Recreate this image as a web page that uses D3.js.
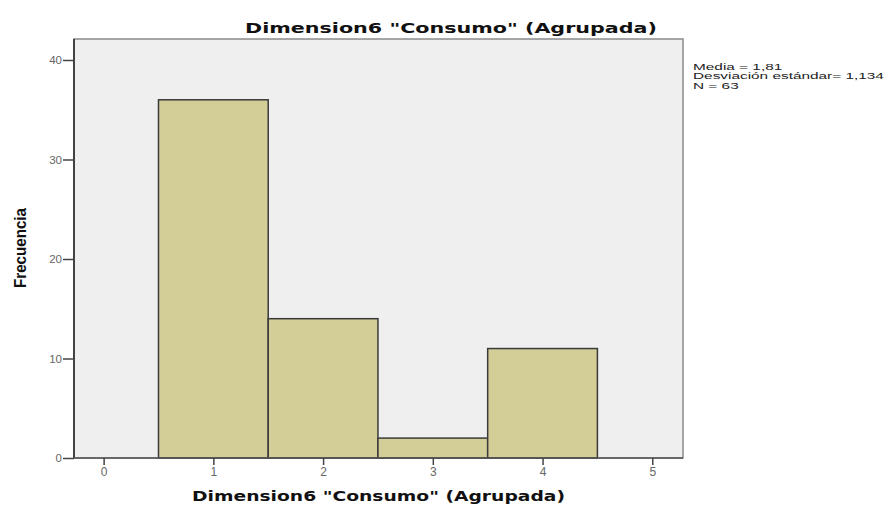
<!DOCTYPE html>
<html><head><meta charset="utf-8">
<script src="https://cdn.jsdelivr.net/npm/d3@7"></script>
<style>body{margin:0;background:#fff}svg{display:block}</style>
</head><body>
<svg id="c" width="896" height="505"></svg>
<script>
const binCenters = [1, 2, 3, 4];
const frequencies = [36, 14, 2, 11];
const xTicks = [0, 1, 2, 3, 4, 5];
const yTicks = [0, 10, 20, 30, 40];
const title = 'Dimension6  "Consumo" (Agrupada)';
const xLabel = 'Dimension6  "Consumo" (Agrupada)';
const yLabel = 'Frecuencia';
const stats = ['Media = 1,81', 'Desviación estándar= 1,134', 'N = 63'];

const svg = d3.select('#c');
const L = 74, R = 683, T = 39, B = 458;
const x = d3.scaleLinear().domain([-0.27, 5.28]).range([L, R]);
const y = d3.scaleLinear().domain([0, 40]).range([B, 60]);

svg.append('rect').attr('x', L).attr('y', T).attr('width', R - L).attr('height', B - T)
  .attr('fill', '#efefef').attr('stroke', '#8a8a8a').attr('stroke-width', 1.5);

svg.append('g').selectAll('rect').data(binCenters).join('rect')
  .attr('x', d => x(d - 0.5)).attr('width', d => x(d + 0.5) - x(d - 0.5))
  .attr('y', (d, i) => y(frequencies[i])).attr('height', (d, i) => y(0) - y(frequencies[i]))
  .attr('fill', '#d3ce97').attr('stroke', '#3a3a3a').attr('stroke-width', 1.5);

svg.append('line').attr('x1', L).attr('x2', L).attr('y1', T).attr('y2', B).attr('stroke', '#222').attr('stroke-width', 1.5);
svg.append('line').attr('x1', L).attr('x2', R).attr('y1', B).attr('y2', B).attr('stroke', '#555').attr('stroke-width', 1.5);

const yAxis = svg.append('g').attr('transform', `translate(${L},0)`)
  .call(d3.axisLeft(y).tickValues(yTicks).tickSize(11).tickPadding(1).tickFormat(d3.format('d')));
yAxis.select('.domain').remove();
yAxis.selectAll('line').attr('stroke', '#444').attr('stroke-width', 1.5);
yAxis.selectAll('text').attr('fill', '#666').style('font', '11.5px "Liberation Sans", Arial, sans-serif');

const xAxis = svg.append('g').attr('transform', `translate(0,${B})`)
  .call(d3.axisBottom(x).tickValues(xTicks).tickSize(7).tickPadding(2).tickFormat(d3.format('d')));
xAxis.select('.domain').remove();
xAxis.selectAll('line').attr('stroke', '#444').attr('stroke-width', 1.5);
xAxis.selectAll('text').attr('fill', '#666').style('font', '12px "Liberation Sans", Arial, sans-serif');

svg.append('text').attr('x', 245).attr('y', 33).text(title)
  .attr('textLength', 412).attr('lengthAdjust', 'spacingAndGlyphs')
  .style('font', 'bold 14px "DejaVu Sans", Verdana, sans-serif').attr('fill', '#111');

svg.append('text').attr('x', 192).attr('y', 501).text(xLabel)
  .attr('textLength', 373).attr('lengthAdjust', 'spacingAndGlyphs')
  .style('font', 'bold 13.5px "DejaVu Sans", Verdana, sans-serif').attr('fill', '#111');

svg.append('text').attr('transform', 'translate(26,248) rotate(-90)').attr('text-anchor', 'middle')
  .text(yLabel).attr('textLength', 80).attr('lengthAdjust', 'spacingAndGlyphs')
  .style('font', 'bold 17px "Liberation Sans Narrow", "Liberation Sans", Arial, sans-serif').attr('fill', '#111');

svg.append('g').attr('transform', 'translate(693,0) scale(1.62,1)')
  .selectAll('text').data(stats).join('text')
  .attr('x', 0).attr('y', (d, i) => 70 + i * 9.5).text(d => d)
  .style('font', '9.5px "Liberation Sans", Arial, sans-serif').attr('fill', '#222');
</script>
</body></html>
